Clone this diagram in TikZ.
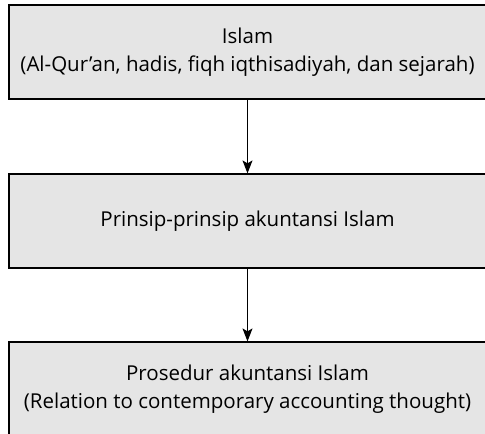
\documentclass[tikz,border=0pt]{standalone}
\usepackage{fontspec}
\setmainfont{Open Sans}
\usepackage{tikz}
\usetikzlibrary{arrows.meta}

\begin{document}
\begin{tikzpicture}[x=1pt,y=1pt,
    boxnode/.style={draw=black, line width=1.2pt, fill=black!10, minimum width=477pt, minimum height=94pt, align=center, font=\fontsize{20.5}{28}\selectfont},
    flowarrow/.style={line width=1pt,-{Stealth[length=13pt,width=10pt,inset=3pt]}}]
    \useasboundingbox (0,0) rectangle (485,-434);
    % Boxes
    \node[boxnode] (islam) at (247.5,-52) {Islam\\(Al-Qur’an, hadis, fiqh iqthisadiyah, dan sejarah)};
    \node[boxnode] (prinsip) at (247.5,-221) {Prinsip-prinsip akuntansi Islam};
    \node[boxnode] (prosedur) at (247.5,-389) {Prosedur akuntansi Islam\\(Relation to contemporary accounting thought)};
    % Arrows
    \draw[flowarrow] (islam) -- (prinsip);
    \draw[flowarrow] (prinsip) -- (prosedur);
\end{tikzpicture}
\end{document}
